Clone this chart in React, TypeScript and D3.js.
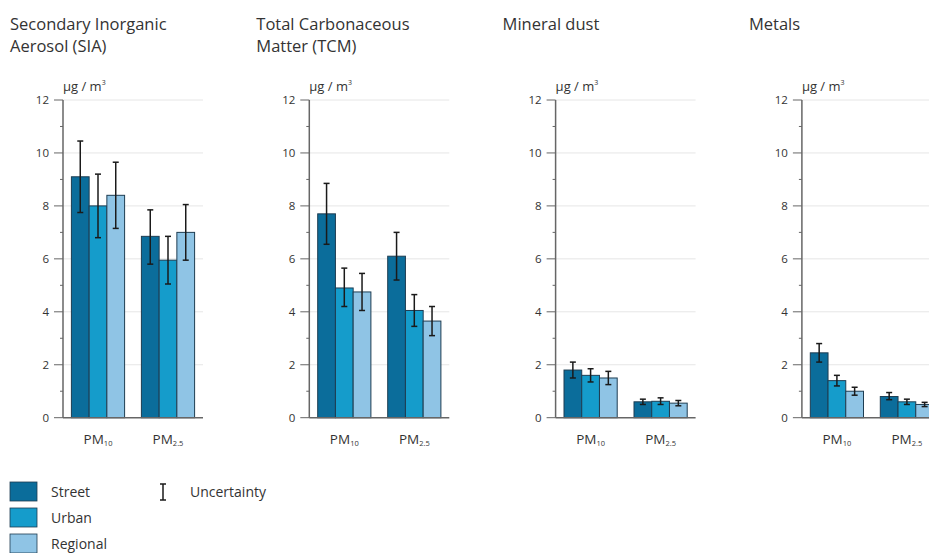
import React from 'react';
import * as d3 from 'd3';

const categories = ['PM10', 'PM2.5'];
const series = ['Street', 'Urban', 'Regional'];
const colors = ['#0b6d9b', '#159ccb', '#8fc4e5'];
const yTicks = [0, 2, 4, 6, 8, 10, 12];

const titles = [
  ['Secondary Inorganic', 'Aerosol (SIA)'],
  ['Total Carbonaceous', 'Matter (TCM)'],
  ['Mineral dust'],
  ['Metals'],
];

// values[panel][category][series]
const siaValues = [[9.1, 8.0, 8.4], [6.85, 5.95, 7.0]];
const siaLow = [[7.75, 6.8, 7.15], [5.8, 5.05, 5.95]];
const siaHigh = [[10.45, 9.2, 9.65], [7.85, 6.85, 8.05]];

const tcmValues = [[7.7, 4.9, 4.75], [6.1, 4.05, 3.65]];
const tcmLow = [[6.55, 4.2, 4.05], [5.2, 3.45, 3.1]];
const tcmHigh = [[8.85, 5.65, 5.45], [7.0, 4.65, 4.2]];

const dustValues = [[1.8, 1.6, 1.5], [0.6, 0.62, 0.55]];
const dustLow = [[1.5, 1.35, 1.25], [0.5, 0.5, 0.45]];
const dustHigh = [[2.1, 1.85, 1.75], [0.7, 0.75, 0.65]];

const metalValues = [[2.45, 1.4, 1.0], [0.8, 0.6, 0.5]];
const metalLow = [[2.1, 1.2, 0.85], [0.68, 0.5, 0.42]];
const metalHigh = [[2.8, 1.6, 1.15], [0.95, 0.7, 0.58]];

const panelValues = [siaValues, tcmValues, dustValues, metalValues];
const panelLow = [siaLow, tcmLow, dustLow, metalLow];
const panelHigh = [siaHigh, tcmHigh, dustHigh, metalHigh];

const font = '"Open Sans", sans-serif';
const textColor = '#333';

function Panel({ index }: { index: number }) {
  const x0 = 63 + index * 246.3;
  const plotW = 140;
  const y = d3.scaleLinear().domain([0, 12]).range([417.7, 100]);
  const xBand = d3.scaleBand().domain(categories).range([0, plotW]).paddingInner(0.24).paddingOuter(0.12);
  const xSeries = d3.scaleBand().domain(series).range([0, xBand.bandwidth()]);
  const minor = d3.range(1, 12, 2);
  const vals = panelValues[index];
  const lo = panelLow[index];
  const hi = panelHigh[index];

  return (
    <g transform={`translate(${x0},0)`}>
      {titles[index].map((t, i) => (
        <text key={t} x={-53} y={30 + i * 22} fontSize={16.5} fill={textColor} fontFamily={font}>{t}</text>
      ))}
      <text x={0} y={91} fontSize={13} fill={textColor} fontFamily={font}>
        µg / m<tspan fontSize={7} dy={-6}>3</tspan>
      </text>
      {yTicks.filter(t => t > 0).map(t => (
        <line key={'g' + t} x1={0} x2={plotW} y1={y(t)} y2={y(t)} stroke="#e6e6e6" strokeWidth={1} />
      ))}
      {yTicks.map(t => (
        <g key={'t' + t}>
          <line x1={-9} x2={0} y1={y(t)} y2={y(t)} stroke="#666" strokeWidth={1} />
          <text x={-14} y={y(t)} dy="0.35em" textAnchor="end" fontSize={11.5} fill={textColor} fontFamily={font}>{t}</text>
        </g>
      ))}
      {minor.map(t => (
        <line key={'m' + t} x1={-3} x2={0} y1={y(t)} y2={y(t)} stroke="#666" strokeWidth={1} />
      ))}
      {categories.map((c, ci) => (
        <g key={c} transform={`translate(${xBand(c)},0)`}>
          {series.map((s, si) => (
            <rect key={s} x={xSeries(s)} y={y(vals[ci][si])} width={xSeries.bandwidth()}
              height={y(0) - y(vals[ci][si])} fill={colors[si]} stroke="#1e3d52" strokeWidth={1} />
          ))}
          {series.map((s, si) => {
            const cx = (xSeries(s) as number) + xSeries.bandwidth() / 2;
            return (
              <g key={'e' + s} stroke="#1a1a1a" strokeWidth={1.5}>
                <line x1={cx} x2={cx} y1={y(lo[ci][si])} y2={y(hi[ci][si])} />
                <line x1={cx - 3} x2={cx + 3} y1={y(hi[ci][si])} y2={y(hi[ci][si])} />
                <line x1={cx - 3} x2={cx + 3} y1={y(lo[ci][si])} y2={y(lo[ci][si])} />
              </g>
            );
          })}
          <text x={xBand.bandwidth() / 2} y={444} textAnchor="middle" fontSize={13.5} fill={textColor} fontFamily={font}>
            PM<tspan fontSize={7.5} dy={2}>{c === 'PM10' ? '10' : '2.5'}</tspan>
          </text>
        </g>
      ))}
      <line x1={0} x2={0} y1={y(12)} y2={y(0)} stroke="#666" strokeWidth={1.5} />
      <line x1={0} x2={plotW} y1={y(0)} y2={y(0)} stroke="#666" strokeWidth={1.5} />
    </g>
  );
}

export default function App() {
  return (
    <svg width={929} height={553} style={{ position: 'absolute', left: 0, top: 0, background: '#fff' }}>
      {titles.map((_, i) => <Panel key={i} index={i} />)}
      {series.map((s, i) => (
        <g key={s}>
          <rect x={10} y={482 + i * 26} width={27} height={19} fill={colors[i]} stroke="#1e3d52" strokeWidth={0.8} />
          <text x={51} y={497 + i * 26} fontSize={14} fill={textColor} fontFamily={font}>{s}</text>
        </g>
      ))}
      <g stroke="#1a1a1a" strokeWidth={1.5}>
        <line x1={163} x2={163} y1={484} y2={500} />
        <line x1={160} x2={166} y1={484} y2={484} />
        <line x1={160} x2={166} y1={500} y2={500} />
      </g>
      <text x={190} y={497} fontSize={14} fill={textColor} fontFamily={font}>Uncertainty</text>
    </svg>
  );
}
